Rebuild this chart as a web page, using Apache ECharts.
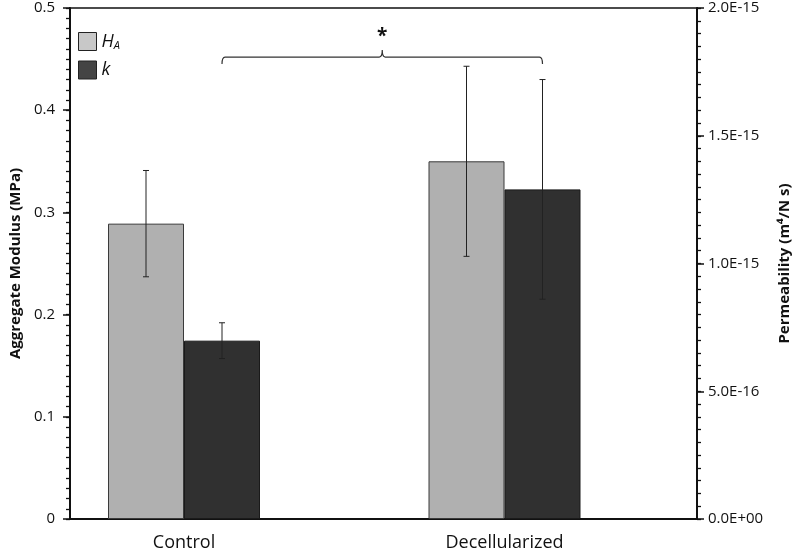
<!DOCTYPE html>
<html>
<head>
<meta charset="utf-8">
<script src="https://cdn.jsdelivr.net/npm/echarts@6/dist/echarts.min.js"></script>
<style>
html,body{margin:0;padding:0;background:#fff;}
#chart{width:800px;height:552px;}
</style>
</head>
<body>
<div id="chart"></div>
<script>
// ---- data ----
var categories = ['Control', 'Decellularized'];
var haMean = [0.289, 0.350];          // Aggregate modulus (MPa)
var haErr  = [0.052, 0.093];
var kMean  = [6.98e-16, 1.29e-15];    // Permeability (m^4/N s)
var kErr   = [7.0e-17, 4.3e-16];
var leftTicks  = {min: 0, max: 0.5, interval: 0.1, minor: 0.01};
var rightTicks = {min: 0, max: 2.0e-15, interval: 5.0e-16, minor: 5.0e-17};
var bracket = {from: 0, to: 1, level: 0.452, label: '*'};

var FONT = 'Open Sans';
var BAR_W = 76;

var haErrData = haMean.map(function (m, i) { return [i, m - haErr[i], m + haErr[i]]; });
var kErrData  = kMean.map(function (m, i) { return [i, m - kErr[i], m + kErr[i]]; });

function errRender(offset) {
  return function (params, api) {
    var hi = api.coord([api.value(0), api.value(2)]);
    var lo = api.coord([api.value(0), api.value(1)]);
    var x = hi[0] + offset;
    var cap = 3;
    var st = {stroke: '#222', lineWidth: 1};
    return {
      type: 'group',
      children: [
        {type: 'line', shape: {x1: x, y1: hi[1], x2: x, y2: lo[1]}, style: st},
        {type: 'line', shape: {x1: x - cap, y1: hi[1], x2: x + cap, y2: hi[1]}, style: st},
        {type: 'line', shape: {x1: x - cap, y1: lo[1], x2: x + cap, y2: lo[1]}, style: st}
      ]
    };
  };
}

function expFmt(v) {
  var s = Number(v).toExponential(1).toUpperCase();
  var parts = s.split('E');
  var sign = parts[1].charAt(0);
  var digits = parts[1].slice(1);
  if (digits.length < 2) digits = '0' + digits;
  return parts[0] + 'E' + sign + digits;
}

function minorAxis(pos, t) {
  return {gridIndex: 0, type: 'value', position: pos, min: t.min, max: t.max, interval: t.minor,
    axisLine: {show: false}, axisLabel: {show: false}, splitLine: {show: false},
    axisTick: {show: true, inside: false, length: 4, lineStyle: {color: '#111', width: 1.3}}};
}

var chart = echarts.init(document.getElementById('chart'));
var option = {
  animation: false,
  backgroundColor: '#fff',
  textStyle: {fontFamily: FONT},
  grid: [
    {left: 61, right: 97, top: 8, bottom: 33, show: true, borderColor: '#111', borderWidth: 1.5},
    {left: 23.75, right: 135.25, top: 8, bottom: 33}
  ],
  legend: {
    orient: 'vertical',
    left: 78, top: 32, padding: 0,
    itemWidth: 18, itemHeight: 18, itemGap: 9,
    icon: 'rect',
    data: [
      {name: 'HA', itemStyle: {color: '#c8c8c8', borderColor: '#222', borderWidth: 1}},
      {name: 'k', itemStyle: {color: '#444444', borderColor: '#222', borderWidth: 1}}
    ],
    formatter: function (n) { return n === 'HA' ? '{i|H}{s|A}' : '{i|k}'; },
    textStyle: {
      rich: {
        i: {fontFamily: FONT, fontStyle: 'italic', fontSize: 18, color: '#111'},
        s: {fontFamily: FONT, fontStyle: 'italic', fontSize: 11, color: '#111', verticalAlign: 'bottom', padding: [9, 0, 0, 0]}
      }
    }
  },
  xAxis: [
    {gridIndex: 0, type: 'value', min: 0, max: 1, axisLine: {show: true, onZero: false, lineStyle: {color: '#111', width: 2}},
     axisTick: {show: false}, axisLabel: {show: false}, splitLine: {show: false}},
    {gridIndex: 1, type: 'category', data: categories, axisLine: {show: false}, axisTick: {show: false},
     axisLabel: {color: '#111', fontSize: 18, fontFamily: FONT, margin: 15}, splitLine: {show: false}}
  ],
  yAxis: [
    {gridIndex: 0, type: 'value', position: 'left', min: leftTicks.min, max: leftTicks.max, interval: leftTicks.interval,
     name: 'Aggregate Modulus (MPa)', nameLocation: 'middle', nameGap: 44, nameRotate: 90,
     nameTextStyle: {fontWeight: 'bold', fontSize: 15, color: '#111', fontFamily: FONT},
     axisLine: {show: true, onZero: false, lineStyle: {color: '#111', width: 2}},
     axisTick: {show: true, inside: false, length: 7, lineStyle: {color: '#111', width: 1.5}},
     axisLabel: {color: '#111', fontSize: 15, margin: 15, formatter: function (v) { return v === 0 ? '0' : v.toFixed(1); }},
     splitLine: {show: false}},
    {gridIndex: 0, type: 'value', position: 'right', min: rightTicks.min, max: rightTicks.max, interval: rightTicks.interval,
     name: 'Permeability (m\u2074/N s)', nameLocation: 'middle', nameGap: 80, nameRotate: 90,
     nameTextStyle: {fontWeight: 'bold', fontSize: 15, color: '#111', fontFamily: FONT},
     axisLine: {show: true, onZero: false, lineStyle: {color: '#111', width: 2}},
     axisTick: {show: true, inside: false, length: 7, lineStyle: {color: '#111', width: 1.5}},
     axisLabel: {color: '#111', fontSize: 15, margin: 11, formatter: expFmt},
     splitLine: {show: false}},
    {gridIndex: 1, type: 'value', show: false, min: leftTicks.min, max: leftTicks.max, splitLine: {show: false}},
    {gridIndex: 1, type: 'value', show: false, min: rightTicks.min, max: rightTicks.max, splitLine: {show: false}},
    minorAxis('left', leftTicks),
    minorAxis('right', rightTicks)
  ],
  series: [
    {name: 'HA', type: 'bar', xAxisIndex: 1, yAxisIndex: 2, data: haMean, barWidth: BAR_W, barGap: '0%',
     itemStyle: {color: '#b0b0b0', borderColor: '#3a3a3a', borderWidth: 1}},
    {name: 'k', type: 'bar', xAxisIndex: 1, yAxisIndex: 3, data: kMean, barWidth: BAR_W, barGap: '0%',
     itemStyle: {color: '#303030', borderColor: '#1a1a1a', borderWidth: 1}},
    {type: 'custom', xAxisIndex: 1, yAxisIndex: 2, data: haErrData, renderItem: errRender(-BAR_W / 2), z: 5, silent: true},
    {type: 'custom', xAxisIndex: 1, yAxisIndex: 3, data: kErrData, renderItem: errRender(BAR_W / 2), z: 5, silent: true},
    {type: 'custom', xAxisIndex: 1, yAxisIndex: 2, data: [[bracket.from, bracket.to, bracket.level]], z: 5, silent: true,
     renderItem: function (params, api) {
       var a = api.coord([api.value(0), api.value(2)]);
       var b = api.coord([api.value(1), api.value(2)]);
       var x0 = a[0] + BAR_W / 2, x1 = b[0] + BAR_W / 2, y = a[1];
       var xm = (x0 + x1) / 2;
       var r = 3, drop = 7, rise = 7;
       var d = 'M' + x0 + ' ' + (y + drop) +
         ' Q' + x0 + ' ' + y + ' ' + (x0 + r) + ' ' + y +
         ' L' + (xm - r) + ' ' + y +
         ' Q' + xm + ' ' + y + ' ' + xm + ' ' + (y - rise) +
         ' Q' + xm + ' ' + y + ' ' + (xm + r) + ' ' + y +
         ' L' + (x1 - r) + ' ' + y +
         ' Q' + x1 + ' ' + y + ' ' + x1 + ' ' + (y + drop);
       return {
         type: 'group',
         children: [
           {type: 'path', shape: {pathData: d}, style: {stroke: '#333', lineWidth: 1.2, fill: null}},
           {type: 'text', x: xm, y: y - 20, style: {text: bracket.label, fontSize: 19, fontWeight: 'bold', fill: '#111',
             align: 'center', verticalAlign: 'middle', fontFamily: FONT}}
         ]
       };
     }}
  ]
};
chart.setOption(option);
</script>
</body>
</html>
